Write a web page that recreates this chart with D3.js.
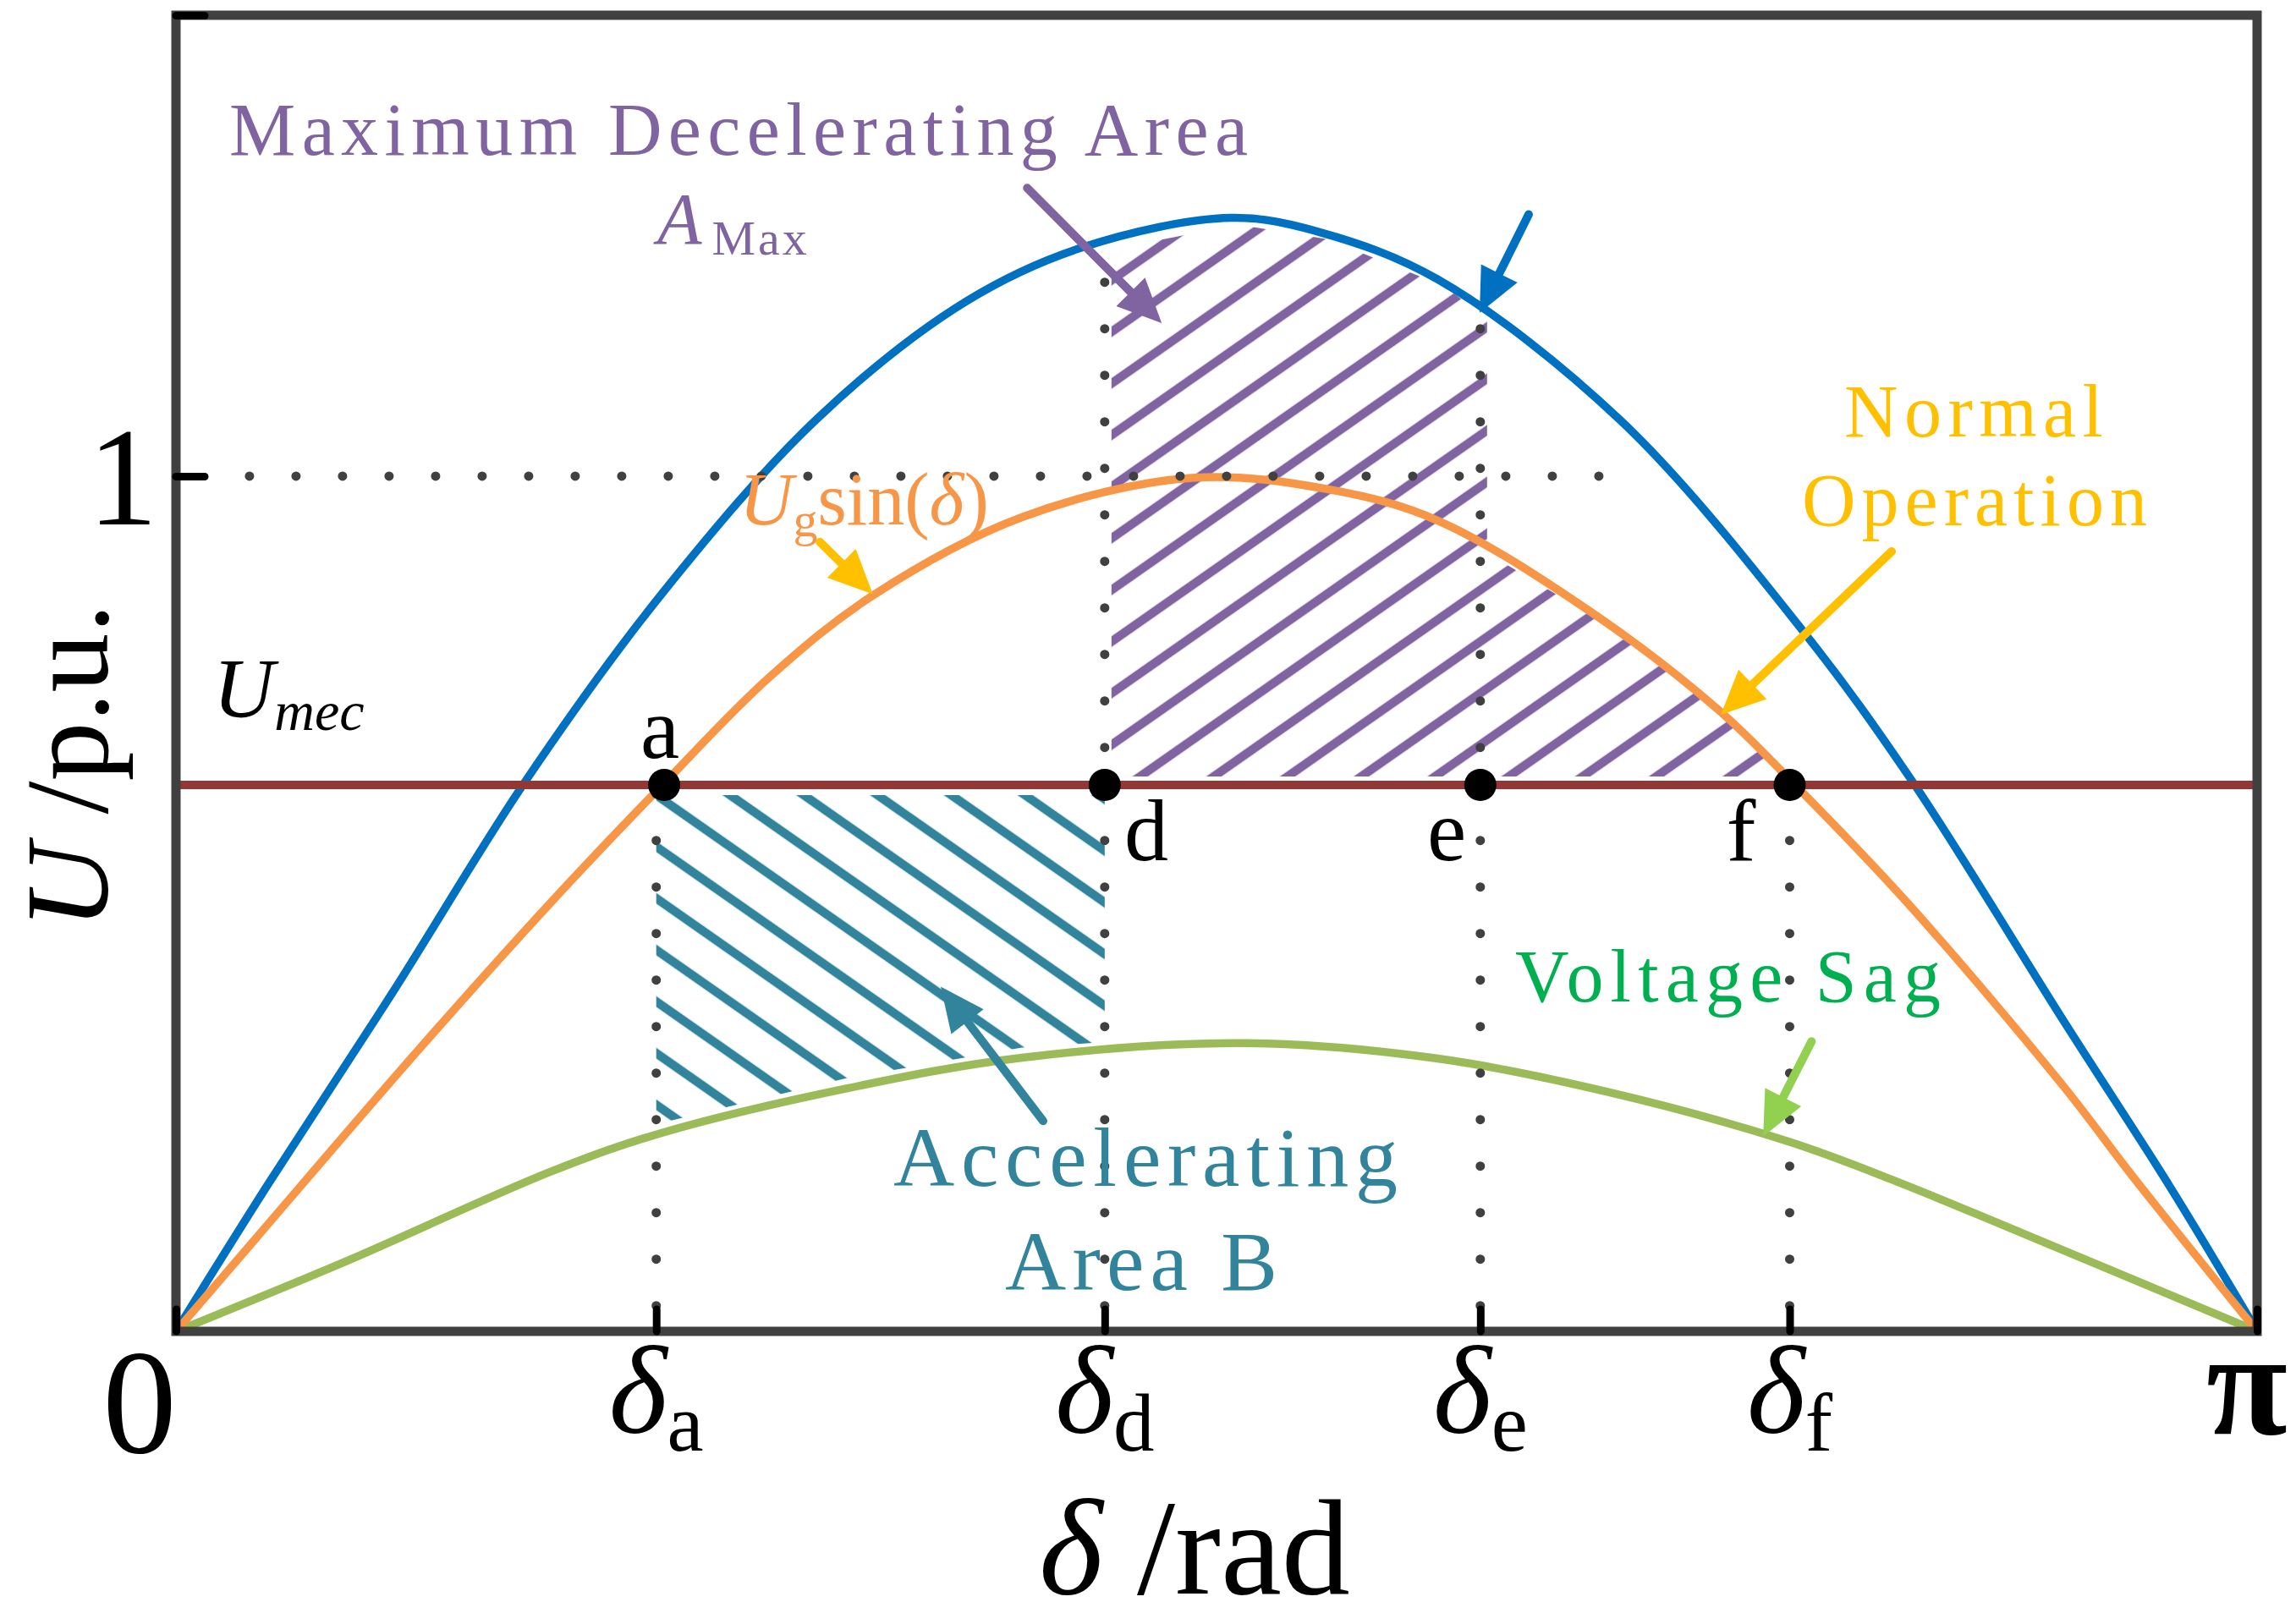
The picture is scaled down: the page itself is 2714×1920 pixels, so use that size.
<!DOCTYPE html>
<html>
<head>
<meta charset="utf-8">
<script src="https://cdn.jsdelivr.net/npm/d3@7"></script>
<style>
body { margin: 0; background: #fff; }
text { font-family: "Liberation Serif", "Times New Roman", serif; }
</style>
</head>
<body>
<div id="app"></div>
<script>
const width = 2714, height = 1920;
const plotLeft = 208, plotRight = 2668, plotTop = 18, plotBottom = 1574;

// curves: angle in rad, voltage in p.u.
const blueDelta = [0, 0.139, 0.326, 0.529, 0.733, 0.969, 1.194, 1.370, 1.593, 1.728, 1.905, 2.181, 2.457, 2.623, 2.852, 3.011, 3.1416];
const blueU = [0, 0.172, 0.395, 0.645, 0.862, 1.068, 1.205, 1.268, 1.302, 1.285, 1.230, 1.065, 0.818, 0.641, 0.360, 0.168, 0];

const orangeDelta = [0, 0.122, 0.367, 0.570, 0.737, 0.896, 1.051, 1.277, 1.533, 1.744, 1.905, 2.142, 2.331, 2.439, 2.615, 2.852, 2.953, 3.1416];
const orangeU = [0, 0.110, 0.330, 0.505, 0.641, 0.765, 0.860, 0.952, 0.998, 0.984, 0.948, 0.838, 0.725, 0.643, 0.500, 0.284, 0.182, 0];

const greenDelta = [0, 0.251, 0.570, 0.733, 1.012, 1.277, 1.615, 1.905, 2.161, 2.434, 2.595, 2.771, 3.1416];
const greenU = [0, 0.080, 0.188, 0.232, 0.284, 0.320, 0.337, 0.319, 0.280, 0.222, 0.176, 0.120, 0];

const uMec = 0.639;
const uMax = 1.539;

// operating points on the U_mec line
const pointKeys = ["a", "d", "e", "f"];
const pointDelta = [0.725, 1.402, 1.969, 2.436];
const dotDelta = [0.737, 1.402, 1.969, 2.436];
const dottedTo = ["mec", "blue", "blue", "mec"];

// arrows [fromDelta, fromU, toDelta, toU]
const arrowList = [
    {color: "#8064A2", p: [1.285, 1.337, 1.488, 1.179]},
    {color: "#0070C0", p: [2.042, 1.306, 1.968, 1.191]},
    {color: "#FFC000", p: [0.972, 0.923, 1.052, 0.862]},
    {color: "#FFC000", p: [2.590, 0.912, 2.332, 0.721]},
    {color: "#92D050", p: [2.469, 0.339, 2.396, 0.228]},
    {color: "#31849B", p: [1.309, 0.246, 1.1545, 0.403]}
];

const x = d3.scaleLinear().domain([0, Math.PI]).range([plotLeft, plotRight]);
const y = d3.scaleLinear().domain([0, uMax]).range([plotBottom, plotTop]);

const svg = d3.select("#app").append("svg")
    .attr("width", width)
    .attr("height", height)
    .style("background", "#fff");

function at(xs, ys, d) {
    const i = d3.bisectRight(xs, d);
    if (i <= 0) return ys[0];
    if (i >= xs.length) return ys[ys.length - 1];
    const t = (d - xs[i - 1]) / (xs[i] - xs[i - 1]);
    return ys[i - 1] + t * (ys[i] - ys[i - 1]);
}

// hatch patterns
const defs = svg.append("defs");
function hatch(id, color, angle) {
    const p = defs.append("pattern")
        .attr("id", id)
        .attr("patternUnits", "userSpaceOnUse")
        .attr("width", 50).attr("height", 50)
        .attr("patternTransform", `rotate(${angle})`);
    p.append("line")
        .attr("x1", 25).attr("y1", -5).attr("x2", 25).attr("y2", 55)
        .attr("stroke", color).attr("stroke-width", 10.5);
}
hatch("hPurple", "#8064A2", 55);
hatch("hTeal", "#31849B", -55);

const [dA, dD, dE, dF] = pointDelta;

// decelerating area: under blue from dD to dE, under orange from dE to dF
const decel = [{d: dD, t: at(blueDelta, blueU, dD)}]
    .concat(blueDelta.map((d, i) => ({d, t: blueU[i]})).filter(p => p.d > dD && p.d < dE))
    .concat([{d: dE, t: at(blueDelta, blueU, dE)}, {d: dE, t: at(orangeDelta, orangeU, dE)}])
    .concat(orangeDelta.map((d, i) => ({d, t: orangeU[i]})).filter(p => p.d > dE && p.d < dF))
    .concat([{d: dF, t: uMec}]);

svg.append("path")
    .attr("d", d3.area().x(p => x(p.d) + 8).y0(y(uMec) - 10).y1(p => y(p.t) + 8)(decel))
    .attr("fill", "url(#hPurple)");

// accelerating area: between U_mec and the sag curve from dA to dD
const accel = [{d: dA, b: at(greenDelta, greenU, dA)}]
    .concat(greenDelta.map((d, i) => ({d, b: greenU[i]})).filter(p => p.d > dA && p.d < dD))
    .concat([{d: dD, b: at(greenDelta, greenU, dD)}]);

svg.append("path")
    .attr("d", d3.area().x(p => x(p.d)).y0(p => y(p.b) - 12).y1(y(uMec) + 12)(accel))
    .attr("fill", "url(#hTeal)");

// curves
const line = d3.line().curve(d3.curveCatmullRom.alpha(0.5));
function curve(xs, ys, color) {
    svg.append("path")
        .attr("d", line(xs.map((d, i) => [x(d), y(ys[i])])))
        .attr("fill", "none")
        .attr("stroke", color)
        .attr("stroke-width", 9.5)
        .attr("stroke-linejoin", "round");
}
curve(greenDelta, greenU, "#9BBB59");
curve(blueDelta, blueU, "#0070C0");
curve(orangeDelta, orangeU, "#F79646");

// U_mec line
svg.append("line")
    .attr("x1", x(0)).attr("x2", x(Math.PI))
    .attr("y1", y(uMec)).attr("y2", y(uMec))
    .attr("stroke", "#943634").attr("stroke-width", 10);

// dotted guides
function dotted(x1, y1, x2, y2) {
    svg.append("line")
        .attr("x1", x1).attr("y1", y1).attr("x2", x2).attr("y2", y2)
        .attr("stroke", "#404040").attr("stroke-width", 11)
        .attr("stroke-linecap", "round")
        .attr("stroke-dasharray", "0 55");
}
dotted(x(0.111), y(1), x(2.213), y(1));
pointDelta.forEach((d, i) => {
    const t = dottedTo[i] === "blue" ? at(blueDelta, blueU, d) : uMec;
    dotted(x(d), y(0.03), x(d), y(t));
});

// frame
svg.append("rect")
    .attr("x", plotLeft).attr("y", plotTop)
    .attr("width", plotRight - plotLeft).attr("height", plotBottom - plotTop)
    .attr("fill", "none").attr("stroke", "#404040").attr("stroke-width", 11);

// ticks (inward)
const xAxis = svg.append("g")
    .attr("transform", `translate(0,${plotBottom})`)
    .call(d3.axisBottom(x).tickValues([0].concat(pointDelta, [Math.PI])).tickSize(-26).tickFormat(""));
const yAxis = svg.append("g")
    .attr("transform", `translate(${plotLeft},0)`)
    .call(d3.axisLeft(y).tickValues([1, uMax]).tickSize(-34).tickFormat(""));
[xAxis, yAxis].forEach(g => {
    g.select(".domain").remove();
    g.selectAll(".tick line").attr("stroke", "#000").attr("stroke-width", 9).attr("stroke-linecap", "round");
});

// operating points
svg.append("g").selectAll("circle")
    .data(dotDelta).enter()
    .append("circle")
    .attr("cx", d => x(d))
    .attr("cy", y(uMec))
    .attr("r", 19)
    .attr("fill", "#000");

// arrows
arrowList.forEach(a => {
    const x1 = x(a.p[0]), y1 = y(a.p[1]), x2 = x(a.p[2]), y2 = y(a.p[3]);
    const ang = Math.atan2(y2 - y1, x2 - x1);
    const hl = 52, hw = 24;
    const bx = x2 - hl * Math.cos(ang), by = y2 - hl * Math.sin(ang);
    svg.append("line")
        .attr("x1", x1).attr("y1", y1).attr("x2", bx).attr("y2", by)
        .attr("stroke", a.color).attr("stroke-width", 10).attr("stroke-linecap", "round");
    svg.append("path")
        .attr("d", `M${x2},${y2}L${bx + hw * Math.sin(ang)},${by - hw * Math.cos(ang)}L${bx - hw * Math.sin(ang)},${by + hw * Math.cos(ang)}Z`)
        .attr("fill", a.color);
});

// tick labels
svg.append("text").attr("x", 165).attr("y", 1717).attr("text-anchor", "middle")
    .style("font-size", "175px").text("0");
svg.append("text").attr("x", 2656).attr("y", 1695).attr("text-anchor", "middle")
    .style("font-size", "175px").style("font-weight", "bold").text("π");
svg.append("text").attr("x", 145).attr("y", 620).attr("text-anchor", "middle")
    .style("font-size", "166px").text("1");

pointDelta.forEach((d, i) => {
    const t = svg.append("text").attr("x", x(d)).attr("y", 1694).attr("text-anchor", "middle");
    t.append("tspan").style("font-size", "148px").style("font-style", "italic").text("δ");
    t.append("tspan").style("font-size", "97px").attr("dy", 21).text(pointKeys[i]);
});

// axis titles
const xt = svg.append("text").attr("x", 1412).attr("y", 1884).attr("text-anchor", "middle").style("font-size", "162px");
xt.append("tspan").style("font-style", "italic").text("δ");
xt.append("tspan").text(" /rad");

const yt = svg.append("text").attr("transform", "translate(127,906) rotate(-90)")
    .attr("text-anchor", "middle").style("font-size", "140px");
yt.append("tspan").style("font-style", "italic").text("U");
yt.append("tspan").text(" /p.u.");

// point letters
const letterPos = [[780, 896], [1355, 1017], [1710, 1017], [2058, 1017]];
pointKeys.forEach((k, i) => {
    svg.append("text").attr("x", letterPos[i][0]).attr("y", letterPos[i][1])
        .attr("text-anchor", "middle").style("font-size", "104px").text(k);
});

// U_mec label
const um = svg.append("text").attr("x", 252).attr("y", 847).style("font-style", "italic");
um.append("tspan").style("font-size", "100px").text("U");
um.append("tspan").style("font-size", "66px").attr("dy", 16).text("mec");

// annotations
function label(txt, xs, yb, size, len, color) {
    svg.append("text").attr("x", xs).attr("y", yb)
        .attr("textLength", len).attr("lengthAdjust", "spacing")
        .style("font-size", size + "px").attr("fill", color).text(txt);
}
label("Maximum Decelerating Area", 271, 183, 88, 1204, "#8064A2");
label("Normal", 2180, 516, 88, 306, "#FFC000");
label("Operation", 2130, 621, 88, 408, "#FFC000");
label("Voltage Sag", 1791, 1184, 88, 503, "#00B050");
label("Accelerating", 1056, 1402, 100, 596, "#31849B");
label("Area B", 1188, 1525, 100, 322, "#31849B");

const am = svg.append("text").attr("x", 777).attr("y", 288).attr("fill", "#8064A2");
am.append("tspan").style("font-size", "86px").style("font-style", "italic").text("A");
am.append("tspan").style("font-size", "58px").attr("dx", 12).attr("dy", 13).attr("letter-spacing", 3).text("Max");

const ug = svg.append("text").attr("x", 874).attr("y", 620).attr("fill", "#F79646").style("font-size", "88px");
ug.append("tspan").style("font-style", "italic").text("U");
ug.append("tspan").style("font-size", "58px").attr("dy", 14).text("g");
ug.append("tspan").attr("dy", -14).text("sin(");
ug.append("tspan").style("font-style", "italic").text("δ");
ug.append("tspan").text(")");
</script>
</body>
</html>
